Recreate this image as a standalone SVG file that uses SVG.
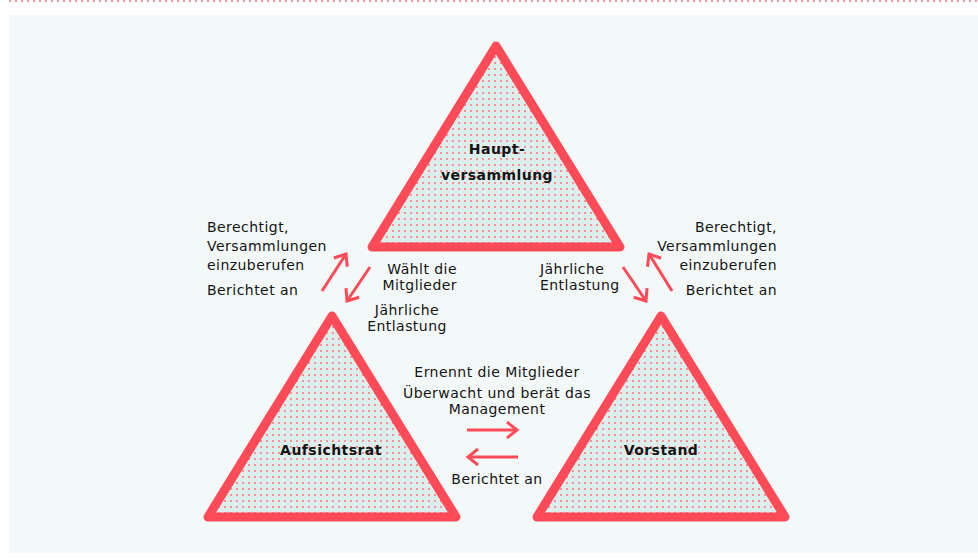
<svg xmlns="http://www.w3.org/2000/svg" width="978" height="559" viewBox="0 0 978 559">
  <defs>
    <pattern id="dots" x="0" y="0" width="6" height="6" patternUnits="userSpaceOnUse">
      <rect width="6" height="6" fill="#dcefed"/>
      <rect x="2" y="2" width="2" height="2" fill="#f4939a"/>
    </pattern>
    <marker id="chev" viewBox="-13 -11 16 22" refX="0" refY="0" markerWidth="16" markerHeight="22" markerUnits="userSpaceOnUse" orient="auto" overflow="visible">
      <path d="M-10,-8 L0,0 L-10,8" fill="none" stroke="#ff4b57" stroke-width="3"/>
    </marker>
    <style>
      .tri { fill: url(#dots); stroke: #ff4b57; stroke-width: 9; stroke-linejoin: round; }
      .lbl { font-family: "DejaVu Sans", "Liberation Sans", sans-serif; font-size: 14px; letter-spacing: 0.45px; fill: #141414; }
      .bold { font-weight: bold; text-anchor: middle; }
      .mid { text-anchor: middle; }
      .end { text-anchor: end; }
      .arr { fill: none; stroke: #ff4b57; stroke-width: 3; marker-end: url(#chev); }
    </style>
  </defs>

  <line x1="9" y1="1" x2="978" y2="1" stroke="#f6979e" stroke-width="2" stroke-dasharray="2 4"/>
  <rect x="9" y="15" width="969" height="538" fill="#f3f8f8"/>

  <g id="hauptversammlung">
    <polygon class="tri" points="496,46 620,247 372,247"/>
    <text class="lbl bold" x="497" y="154">Haupt-</text>
    <text class="lbl bold" x="497" y="180">versammlung</text>
  </g>

  <g id="aufsichtsrat">
    <polygon class="tri" points="332,316 456,517 208,517"/>
    <text class="lbl bold" x="331" y="455">Aufsichtsrat</text>
  </g>

  <g id="vorstand">
    <polygon class="tri" points="661,316 785,517 537,517"/>
    <text class="lbl bold" x="661" y="455">Vorstand</text>
  </g>

  <g id="connectors">
    <line class="arr" x1="322" y1="291" x2="346" y2="254"/>
    <line class="arr" x1="370" y1="267" x2="347" y2="301"/>
    <line class="arr" x1="623" y1="267" x2="646" y2="301"/>
    <line class="arr" x1="672" y1="291" x2="649" y2="254"/>
    <line class="arr" x1="467" y1="430" x2="517" y2="430"/>
    <line class="arr" x1="518" y1="457" x2="468" y2="457"/>
  </g>

  <g id="labels">
    <text class="lbl" x="207" y="232">Berechtigt,</text>
    <text class="lbl" x="207" y="251">Versammlungen</text>
    <text class="lbl" x="207" y="270">einzuberufen</text>
    <text class="lbl" x="207" y="295">Berichtet an</text>

    <text class="lbl end" x="457" y="274">Wählt die</text>
    <text class="lbl end" x="457" y="290">Mitglieder</text>
    <text class="lbl mid" x="407" y="315">Jährliche</text>
    <text class="lbl mid" x="407" y="331">Entlastung</text>

    <text class="lbl" x="540" y="274">Jährliche</text>
    <text class="lbl" x="540" y="290">Entlastung</text>

    <text class="lbl end" x="777" y="232">Berechtigt,</text>
    <text class="lbl end" x="777" y="251">Versammlungen</text>
    <text class="lbl end" x="777" y="270">einzuberufen</text>
    <text class="lbl end" x="777" y="295">Berichtet an</text>

    <text class="lbl mid" x="497" y="377">Ernennt die Mitglieder</text>
    <text class="lbl mid" x="497" y="398">Überwacht und berät das</text>
    <text class="lbl mid" x="497" y="414">Management</text>
    <text class="lbl mid" x="497" y="484">Berichtet an</text>
  </g>
</svg>
